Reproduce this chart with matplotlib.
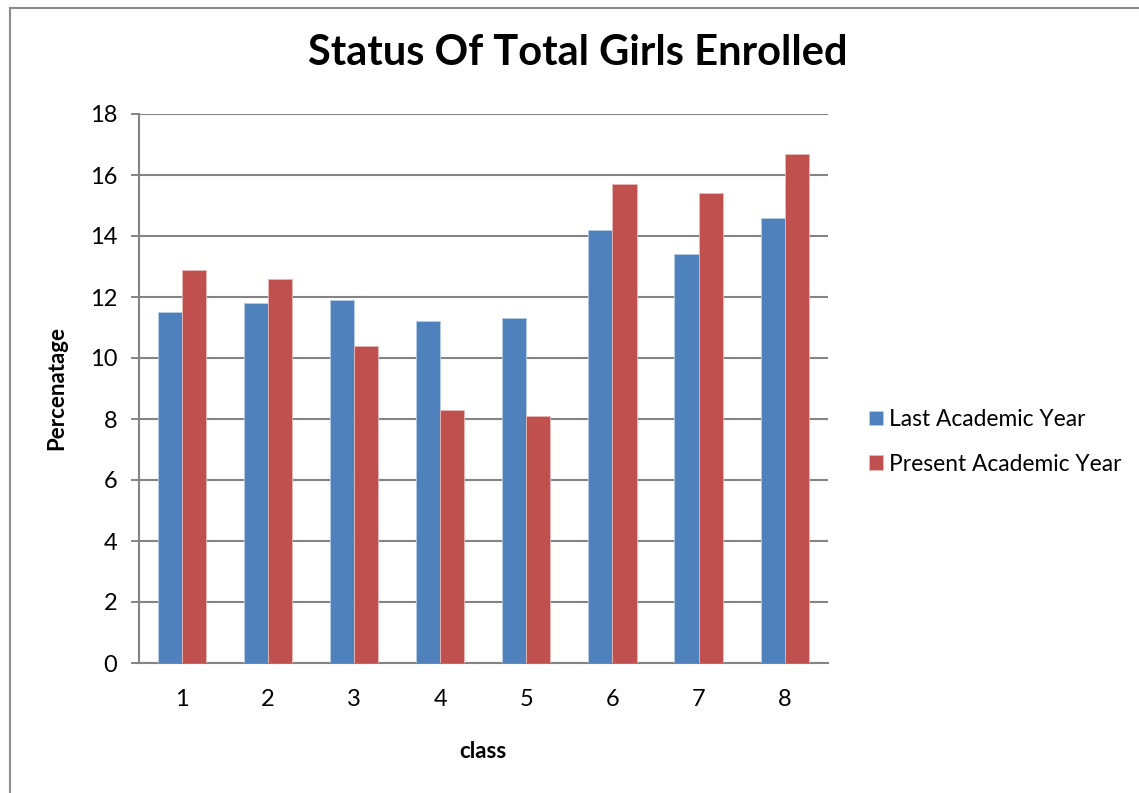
import matplotlib
matplotlib.use("Agg")
import matplotlib.pyplot as plt
import numpy as np
from matplotlib.lines import Line2D

classes = ["1", "2", "3", "4", "5", "6", "7", "8"]
last_year = [11.5, 11.8, 11.9, 11.2, 11.3, 14.2, 13.4, 14.6]
present_year = [12.9, 12.6, 10.4, 8.3, 8.1, 15.7, 15.4, 16.7]

plt.rcParams['font.family'] = ['Lato', 'DejaVu Sans']

fig = plt.figure(figsize=(11.39, 7.93), dpi=100)
ax = fig.add_axes([139/1139, 1 - 663/793, (827.7 - 139)/1139, (663 - 114)/793])

x = np.arange(len(classes))
w = 0.28
ax.bar(x - w/2, last_year, w, color="#4F81BD", edgecolor="#B9CDE5", linewidth=0.6,
       label="Last Academic Year", zorder=3)
ax.bar(x + w/2, present_year, w, color="#C0504D", edgecolor="#E6B9B8", linewidth=0.6,
       label="Present Academic Year", zorder=3)

ax.set_xlim(-0.5, len(classes) - 0.5)
ax.set_ylim(0, 18)
ax.set_yticks(range(0, 19, 2))
ax.set_xticks(x)
ax.set_xticklabels(classes)
ax.grid(axis="y", color="#848484", linewidth=1.5, zorder=0)
for s in ["top", "right"]:
    ax.spines[s].set_visible(False)
for s in ["left", "bottom"]:
    ax.spines[s].set_color("#848484")
    ax.spines[s].set_linewidth(1.5)
ax.tick_params(axis="y", length=5.8, width=1.4, color="#848484", labelsize=17, pad=10)
ax.tick_params(axis="x", length=0, labelsize=17, pad=19)

ax.set_ylabel("Percenatage", fontsize=16, fontweight="bold", labelpad=16)
ax.set_xlabel("class", fontsize=16, fontweight="bold", labelpad=22)

fig.text(578/1139, 1 - 53/793, "Status Of Total Girls Enrolled", ha="center", va="center",
         fontsize=30, fontweight="bold")

ax.legend(loc="center left", bbox_to_anchor=(1.03, 0.403), frameon=False, fontsize=16.4,
          handlelength=0.6, handleheight=0.6, handletextpad=0.3, labelspacing=1.05)

# outer chart frame
fig.add_artist(Line2D([9.5/1139, 9.5/1139], [0, 1 - 8/793], color="#8c8c8c", linewidth=1.5))
fig.add_artist(Line2D([9.5/1139, 1], [1 - 8/793, 1 - 8/793], color="#8c8c8c", linewidth=1.5))

fig.savefig("out.png", dpi=100)
